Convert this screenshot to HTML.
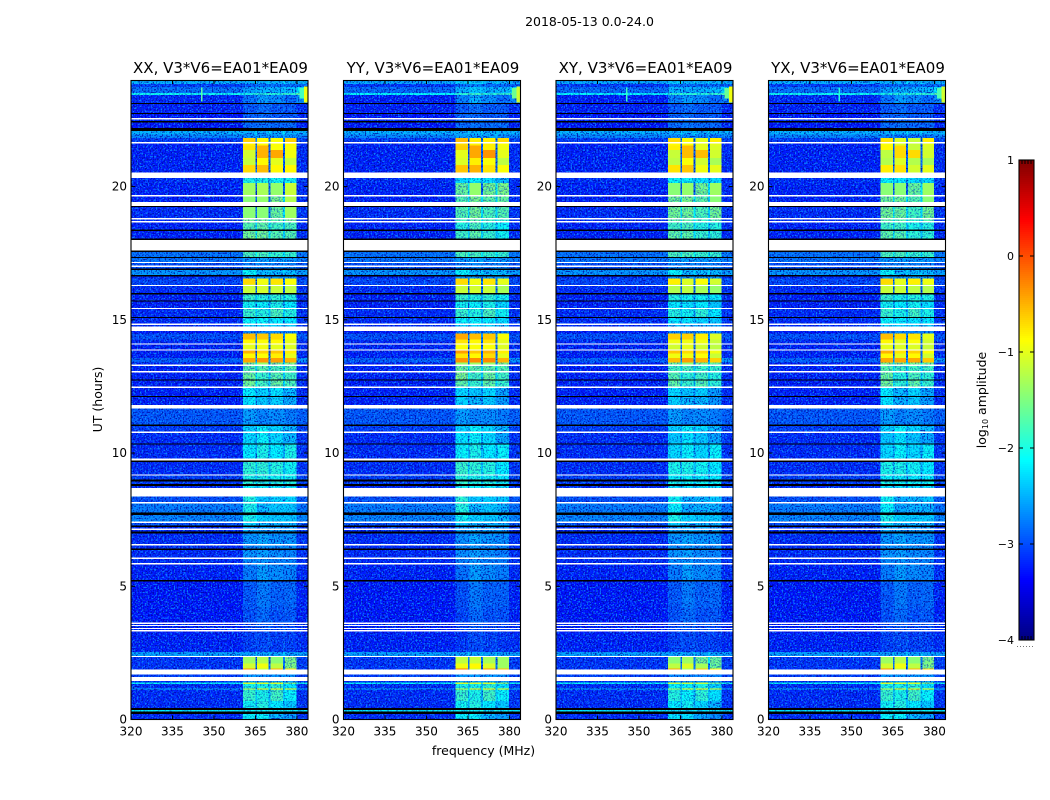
<!DOCTYPE html>
<html lang="en">
<head>
<meta charset="utf-8">
<title>2018-05-13 dynamic spectra, V3*V6 = EA01*EA09</title>
<style>
html,body{margin:0;padding:0;background:#fff;width:1050px;height:800px;overflow:hidden}
svg{display:block}
text{font-family:"DejaVu Sans","Liberation Sans",sans-serif;fill:#000}
</style>
</head>
<body>
<svg id="figure" xmlns="http://www.w3.org/2000/svg" width="1050" height="800" viewBox="0 0 1050 800">
  <defs>
    <filter id="grain-light" x="0" y="0" width="100%" height="100%" color-interpolation-filters="sRGB">
      <feTurbulence type="fractalNoise" baseFrequency="0.62" numOctaves="1" seed="4"/>
      <feColorMatrix type="matrix" values="0 0 0 0 0.05  0 0 0 0 0.58  0 0 0 0 1  7 0 0 0 -3.55"/>
    </filter>
    <filter id="grain-dark" x="0" y="0" width="100%" height="100%" color-interpolation-filters="sRGB">
      <feTurbulence type="fractalNoise" baseFrequency="0.66" numOctaves="1" seed="11"/>
      <feColorMatrix type="matrix" values="0 0 0 0 0  0 0 0 0 0  0 0 0 0 0.62  0 7 0 0 -3.6"/>
    </filter>
  </defs>
  <text x="589.5" y="26" font-size="12.5" text-anchor="middle">2018-05-13 0.0-24.0</text>
  <text x="0" y="0" font-size="12.5" text-anchor="middle" transform="translate(102,399.5) rotate(-90)">UT (hours)</text>
  <text x="483.5" y="755" font-size="12.5" text-anchor="middle">frequency (MHz)</text>
  <text x="0" y="0" font-size="12.5" text-anchor="middle" transform="translate(986,400) rotate(-90)">log<tspan font-size="8" dy="2">10</tspan><tspan dy="-2"> amplitude</tspan></text>
  <g id="panels"></g>
  <g id="colorbar"></g>
</svg>
<script>
// Time bands, top to bottom: [top hour, background, spw1, spw2, spw3, spw4, optional right edge].
// Each band lasts until the next band's top hour. W = flagged (white), K = zero amplitude (black).
const W = null;
const K = -9;
const bandsXX = [
[24.00,-2.45,-2.45,-2.45,-2.45,-2.45,-2.45],
[23.85,-3.10,-2.95,-2.85,-2.85,-2.85,-2.85],
[23.73,-2.80,-2.55,-2.45,-2.45,-2.40,-2.20],
[23.51,-2.05,-2.00,-1.95,-1.95,-1.90,-1.70],
[23.43,-3.20,-2.80,-2.55,-2.65,-2.85,-2.65],
[23.13,K,K,K,K,K],
[23.09,-3.25,-2.95,-2.85,-2.95,-2.95],
[22.76,K,K,K,K,K],
[22.72,-3.30,-2.90,-2.85,-2.95,-2.95],
[22.57,W,W,W,W,W],
[22.52,-3.20,-2.90,-2.85,-2.90,-2.90],
[22.47,K,K,K,K,K],
[22.41,-3.30,-2.85,-2.80,-2.85,-2.85],
[22.19,K,K,K,K,K],
[22.09,-2.45,-2.45,-2.45,-2.45,-2.45,-2.45],
[21.95,-2.70,-2.65,-2.65,-2.65,-2.65,-2.70],
[21.82,-3.10,-0.65,-0.85,-0.90,-0.65],
[21.67,W,W,W,W,W],
[21.62,-3.25,-0.80,-0.85,-0.90,-0.85],
[21.55,-3.25,-0.75,-0.50,-0.90,-0.90],
[21.37,-3.25,-1.10,-0.50,-0.45,-0.95],
[21.07,-3.25,-1.15,-0.85,-1.00,-1.15],
[20.81,-3.25,-0.70,-0.55,-0.85,-0.85],
[20.52,W,W,W,W,W],
[20.32,-3.20,-2.00,-2.00,-2.05,-2.05],
[20.13,-3.25,-1.35,-1.30,-1.40,-1.15],
[19.68,W,W,W,W,W],
[19.62,-3.25,-1.45,-1.40,-1.50,-1.25],
[19.42,W,W,W,W,W],
[19.28,K,K,K,K,K],
[19.24,-3.20,-1.45,-1.45,-1.60,-1.35],
[18.82,W,W,W,W,W],
[18.77,-3.20,-1.55,-1.55,-1.65,-1.50],
[18.71,W,W,W,W,W],
[18.66,-3.25,-1.70,-1.65,-1.80,-1.75],
[18.38,K,K,K,K,K],
[18.34,-3.25,-1.55,-1.55,-1.70,-1.70],
[18.05,K,K,K,K,K],
[18.00,W,W,W,W,W],
[17.60,K,K,K,K,K],
[17.54,-2.80,-1.75,-1.75,-1.85,-1.85],
[17.36,K,K,K,K,K],
[17.32,-2.80,-2.60,-2.55,-2.60,-2.60],
[17.17,W,W,W,W,W],
[17.13,-3.00,-2.75,-2.70,-2.75,-2.75],
[17.03,W,W,W,W,W],
[16.98,-3.00,-2.70,-2.70,-2.70,-2.70],
[16.93,K,K,K,K,K],
[16.87,-2.60,-2.10,-2.40,-2.40,-2.40],
[16.68,K,K,K,K,K],
[16.62,-3.20,-2.60,-2.60,-2.60,-2.60],
[16.55,-3.05,-0.70,-0.95,-0.75,-0.90],
[16.33,-3.10,-1.15,-1.10,-1.15,-1.20],
[16.30,W,W,W,W,W],
[16.26,-3.20,-1.15,-1.10,-1.15,-1.20],
[16.00,K,K,K,K,K],
[15.95,-3.25,-1.85,-1.95,-1.90,-1.95],
[15.72,K,K,K,K,K],
[15.68,-3.25,-2.05,-2.10,-2.00,-2.15],
[15.45,W,W,W,W,W],
[15.40,-3.20,-1.85,-1.95,-1.75,-1.95],
[15.10,K,K,K,K,K],
[15.06,-3.20,-2.10,-2.10,-2.15,-2.15],
[14.86,W,W,W,W,W],
[14.80,-3.20,-2.30,-2.30,-2.30,-2.30],
[14.74,W,W,W,W,W],
[14.58,-3.30,-2.70,-2.70,-2.70,-2.70],
[14.48,-3.00,-0.55,-0.60,-0.70,-0.90],
[14.26,-3.20,-0.85,-0.90,-0.85,-1.00],
[14.12,W,W,W,W,W],
[14.08,-3.25,-1.00,-0.95,-1.00,-1.05],
[13.89,W,W,W,W,W],
[13.84,-3.25,-0.50,-0.65,-0.60,-0.80],
[13.74,-3.25,-0.85,-0.90,-0.80,-1.00],
[13.56,-2.90,-0.45,-0.35,-0.40,-0.50,-2.60],
[13.40,-3.25,-1.50,-1.40,-1.50,-1.50],
[13.32,W,W,W,W,W],
[13.27,-3.25,-1.70,-1.70,-1.75,-1.70],
[13.07,W,W,W,W,W],
[13.03,-3.25,-1.60,-1.85,-1.70,-1.80],
[12.76,K,K,K,K,K],
[12.72,-3.25,-1.55,-1.80,-1.60,-1.75],
[12.50,W,W,W,W,W],
[12.45,-3.25,-2.15,-2.30,-2.20,-2.40],
[12.15,K,K,K,K,K],
[12.11,-3.25,-2.20,-2.35,-2.30,-2.45],
[11.80,W,W,W,W,W],
[11.68,-2.95,-2.55,-2.70,-2.65,-2.75],
[11.08,K,K,K,K,K],
[11.02,-3.10,-2.30,-2.10,-2.25,-2.40],
[10.80,W,W,W,W,W],
[10.75,-3.20,-2.25,-2.10,-2.25,-2.40],
[10.36,K,K,K,K,K],
[10.32,-3.20,-2.15,-2.00,-2.15,-2.00],
[9.80,W,W,W,W,W],
[9.72,K,K,K,K,K],
[9.66,-3.20,-1.90,-1.90,-1.95,-2.05],
[9.20,W,W,W,W,W],
[9.15,-3.10,-2.00,-2.00,-2.05,-2.05],
[9.00,K,K,K,K,K],
[8.94,-3.10,-1.90,-1.95,-1.95,-1.95],
[8.84,K,K,K,K,K],
[8.76,-3.20,-2.10,-2.10,-2.10,-2.10],
[8.69,W,W,W,W,W],
[8.37,-3.00,-1.95,-2.35,-2.30,-2.25],
[8.16,W,W,W,W,W],
[8.11,-2.75,-2.00,-2.40,-2.35,-2.35,-2.80],
[7.76,K,K,K,K,K],
[7.67,-2.70,-2.00,-2.30,-2.35,-2.35,-2.70],
[7.44,W,W,W,W,W],
[7.38,-3.00,-2.30,-2.40,-2.45,-2.45],
[7.28,K,K,K,K,K],
[7.22,-3.20,-2.50,-2.50,-2.55,-2.55],
[7.16,W,W,W,W,W],
[7.11,-3.20,-2.50,-2.50,-2.55,-2.55],
[7.06,K,K,K,K,K],
[6.98,-3.20,-2.60,-2.50,-2.60,-2.60],
[6.58,W,W,W,W,W],
[6.53,-3.20,-2.65,-2.60,-2.65,-2.65],
[6.41,K,K,K,K,K],
[6.36,-3.20,-2.60,-2.55,-2.65,-2.70],
[6.08,W,W,W,W,W],
[6.03,-3.20,-2.65,-2.60,-2.70,-2.70],
[5.87,W,W,W,W,W],
[5.82,-3.25,-2.75,-2.55,-2.65,-2.70],
[5.23,K,K,K,K,K],
[5.18,-3.30,-2.95,-2.75,-2.90,-2.85],
[4.20,-3.30,-3.00,-2.85,-3.00,-2.95],
[3.64,W,W,W,W,W],
[3.59,-3.25,-3.05,-2.95,-3.05,-3.05],
[3.55,W,W,W,W,W],
[3.50,-3.25,-3.05,-2.95,-3.05,-3.05],
[3.44,W,W,W,W,W],
[3.39,-3.25,-3.05,-3.00,-3.05,-3.05],
[3.35,W,W,W,W,W],
[3.30,-3.25,-3.10,-3.05,-3.10,-3.10],
[2.54,-2.55,-2.55,-2.55,-2.55,-2.55,-2.55],
[2.39,W,W,W,W,W],
[2.34,-3.15,-1.35,-1.25,-1.45,-1.50],
[2.10,-3.15,-1.10,-0.95,-1.20,-1.50],
[1.92,-3.15,-0.35,-1.20,-0.50,-0.70],
[1.87,W,W,W,W,W],
[1.68,-3.10,-2.60,-2.60,-2.60,-2.60],
[1.60,W,W,W,W,W],
[1.45,-3.20,-2.50,-2.50,-2.50,-2.50],
[1.38,-2.10,-1.10,-1.10,-1.10,-1.50],
[1.33,-3.20,-2.00,-2.00,-1.90,-2.20],
[1.17,-2.40,-1.20,-0.80,-0.80,-0.90],
[1.13,-3.20,-1.85,-2.00,-1.80,-2.10],
[0.70,-3.20,-2.05,-1.95,-2.15,-2.35],
[0.43,K,K,K,K,K],
[0.35,-2.20,-2.10,-2.10,-2.10,-2.10,-2.20],
[0.30,K,K,K,K,K],
[0.20,-3.20,-2.10,-2.10,-2.40,-2.55]
];
// Differences from the XX panel: [from hour, to hour, background, spw1, spw2, spw3, spw4].
const deltaXX = [];
const deltaYY = [
[24,23.1,-0.05,0.10,0.10,0,0],
[22,20.52,0,0.10,0.05,0.10,-0.05],
[20.32,18,0,-0.25,-0.10,-0.15,-0.35],
[16.6,14.6,0,0,0,0,-0.10],
[14.5,13,0,0.10,0.05,0.10,0],
[13,12,0,-0.10,-0.05,-0.05,-0.10],
[11,8,0,0.05,0,0,-0.10],
[8.4,3,0,-0.05,0,0,-0.05],
[2.4,1.8,0,0.15,0.10,0.15,0.15]
];
const deltaXY = [
[24,23.1,-0.05,0.10,0,0,0],
[22,20.52,0,-0.05,-0.05,-0.10,-0.15],
[20.32,18,0,-0.10,-0.10,-0.15,-0.20],
[16.6,14.6,0,-0.10,-0.10,-0.15,-0.20],
[14.5,12,0,-0.10,-0.05,-0.10,-0.15],
[11,8,0,-0.10,-0.10,-0.10,-0.10],
[2.4,0,0,-0.10,-0.10,-0.10,-0.10]
];
const deltaYX = [
[22,20.52,0,-0.10,-0.20,-0.25,-0.15],
[20.32,18,0,-0.10,-0.15,-0.20,-0.20],
[16.6,14.6,0,0,-0.05,-0.05,-0.05],
[14.5,12,0,0,-0.10,-0.05,-0.10],
[11,8,0,-0.10,-0.10,-0.10,-0.10]
];
// Narrow interference features: [panel, from MHz, to MHz, from hour, to hour, log amplitude].
const rfiFeatures = [
[0,345.3,345.9,23.72,23.20,-1.70],
[2,345.3,345.9,23.72,23.20,-1.85],
[3,345.3,345.9,23.72,23.20,-1.95],
[0,381.0,382.6,23.70,23.30,-1.80],
[0,382.6,384.0,23.75,23.15,-0.95],
[1,381.0,382.6,23.70,23.30,-1.60],
[1,382.6,384.0,23.75,23.15,-1.10],
[2,381.0,382.6,23.70,23.30,-1.60],
[2,382.6,384.0,23.75,23.15,-0.95],
[3,381.0,382.6,23.70,23.30,-1.75],
[3,382.6,384.0,23.75,23.15,-1.10]
];
const panelTitles = ["XX, V3*V6=EA01*EA09","YY, V3*V6=EA01*EA09","XY, V3*V6=EA01*EA09","YX, V3*V6=EA01*EA09"];
const panelDeltas = [deltaXX,deltaYY,deltaXY,deltaYX];
// Spectral window edges in MHz.
const spwEdges = [[360.5,365.0],[365.6,369.8],[370.5,374.9],[375.6,379.8]];
const freqTicks = [320,335,350,365,380];
const hourTicks = [0,5,10,15,20];
const colorTicks = [1,0,-1,-2,-3,-4];

const SVGNS = "http://www.w3.org/2000/svg";
const panelLefts = [131,343.5,556,768.5];
const panelWidth = 177;
const plotTop = 80;
const plotBottom = 719.5;
const freqMin = 320, freqMax = 384, hourMax = 24;
const colorMin = -4, colorMax = 1;

function scaleX(left, f){ return left + (f - freqMin) / (freqMax - freqMin) * panelWidth; }
function scaleY(h){ return plotBottom - h / hourMax * (plotBottom - plotTop); }
function clamp01(v){ return Math.max(0, Math.min(1, v)); }
function jet(v){
  const t = clamp01((v - colorMin) / (colorMax - colorMin));
  const r = clamp01(Math.min(4*t - 1.5, -4*t + 4.5));
  const g = clamp01(Math.min(4*t - 0.5, -4*t + 3.5));
  const b = clamp01(Math.min(4*t + 0.5, -4*t + 2.5));
  return "rgb(" + Math.round(r*255) + "," + Math.round(g*255) + "," + Math.round(b*255) + ")";
}
function node(tag, parent){
  const el = document.createElementNS(SVGNS, tag);
  parent.appendChild(el);
  return el;
}
function drawLine(parent, x1, y1, x2, y2){
  const el = node("line", parent);
  el.setAttribute("x1", x1);
  el.setAttribute("y1", y1);
  el.setAttribute("x2", x2);
  el.setAttribute("y2", y2);
  el.setAttribute("stroke", "#000");
  el.setAttribute("stroke-width", "1");
  
  
  return el;
}
function drawCell(parent, left, f0, f1, h0, h1, fill){
  const el = node("rect", parent);
  const x0 = scaleX(left, f0);
  const x1 = scaleX(left, f1);
  const y0 = scaleY(h0);
  const y1 = scaleY(h1);
  el.setAttribute("x", x0);
  el.setAttribute("y", y0);
  el.setAttribute("width", x1 - x0);
  el.setAttribute("height", y1 - y0);
  el.setAttribute("fill", fill);
  el.setAttribute("shape-rendering", "crispEdges");
  
  
  return el;
}
function drawGrain(parent, left, filterId, opacity){
  const el = node("rect", parent);
  el.setAttribute("x", left);
  el.setAttribute("y", plotTop);
  el.setAttribute("width", panelWidth);
  el.setAttribute("height", plotBottom - plotTop);
  el.setAttribute("filter", "url(#" + filterId + ")");
  el.setAttribute("opacity", opacity);
  
  
}
function deltaFor(deltas, hour, index){
  for (const d of deltas){
    if (hour <= d[0] && hour > d[1]) return d[index];
  }
  return 0;
}
function drawPanel(root, p){
  const left = panelLefts[p];
  const group = node("g", root);
  
  

  const cold = node("g", group);
  
  
  drawGrain(group, left, "grain-light", 0.8);
  drawGrain(group, left, "grain-dark", 0.75);
  const hot = node("g", group);
  
  
  const flags = node("g", group);
  
  

  const deltas = panelDeltas[p];
  function cell(f0, f1, h0, h1, v){
    if (v > -1.5){
      drawCell(hot, left, f0, f1, h0, h1, jet(v));
    } else if (v > -2.4){
      drawCell(cold, left, f0, f1, h0, h1, jet(v));
      const veil = drawCell(hot, left, f0, f1, h0, h1, jet(v));
      veil.setAttribute("opacity", "0.4");
    } else {
      drawCell(cold, left, f0, f1, h0, h1, jet(v));
    }
  }
  bandsXX.forEach(function(band, i){
    const h0 = band[0];
    const h1 = i + 1 < bandsXX.length ? bandsXX[i+1][0] : 0;
    if (band[1] === W){ drawCell(flags, left, freqMin, freqMax, h0, h1, "#fff"); return; }
    if (band[1] === K){ drawCell(flags, left, freqMin, freqMax, h0, h1, "#000"); return; }
    const bg = band[1] + deltaFor(deltas, h0, 2);
    const right = (band.length > 6 ? band[6] : band[1] + 0.05) + deltaFor(deltas, h0, 2);
    cell(freqMin, spwEdges[0][0], h0, h1, bg);
    spwEdges.forEach(function(edge, s){
      const v = band[2+s] + deltaFor(deltas, h0, 3+s);
      cell(edge[0], edge[1], h0, h1, v);
      if (s < spwEdges.length - 1){
        const gap = v > -1.5 ? bg + 0.35 : (v + bg) / 2 + 0.2;
        cell(edge[1], spwEdges[s+1][0], h0, h1, gap);
      }
    });
    cell(spwEdges[3][1], freqMax, h0, h1, right);
  });
  rfiFeatures.forEach(function(r){
    if (r[0] === p) drawCell(hot, left, r[1], r[2], r[3], r[4], jet(r[5]));
  });

  const frame = node("rect", group);
  frame.setAttribute("x", left);
  frame.setAttribute("y", plotTop + 0.5);
  frame.setAttribute("width", panelWidth);
  frame.setAttribute("height", plotBottom - plotTop - 0.5);
  frame.setAttribute("fill", "none");
  frame.setAttribute("stroke", "#000");
  frame.setAttribute("stroke-width", "1.1");
  
  

  freqTicks.forEach(function(f){
    const x = scaleX(left, f);
    drawLine(group, x, plotBottom, x, plotBottom - 4);
    drawLine(group, x, plotTop, x, plotTop + 4);
    const label = node("text", group);
    label.setAttribute("x", x);
    label.setAttribute("y", plotBottom + 16);
    label.setAttribute("font-size", "12");
    label.setAttribute("text-anchor", "middle");
    
    
    label.textContent = f;
  });
  hourTicks.forEach(function(h){
    const y = scaleY(h);
    drawLine(group, left, y, left + 4, y);
    drawLine(group, left + panelWidth, y, left + panelWidth - 4, y);
    const label = node("text", group);
    label.setAttribute("x", left - 4);
    label.setAttribute("y", y + 4);
    label.setAttribute("font-size", "12");
    label.setAttribute("text-anchor", "end");
    
    
    label.textContent = h;
  });
  const title = node("text", group);
  title.setAttribute("x", left + panelWidth / 2 + 1);
  title.setAttribute("y", 73);
  title.setAttribute("font-size", "15");
  title.setAttribute("text-anchor", "middle");
  
  
  title.textContent = panelTitles[p];
}
function drawColorbar(root){
  const x0 = 1019, x1 = 1034, yTop = 160, yBottom = 640;
  const yOf = function(v){ return yBottom - (v - colorMin) / (colorMax - colorMin) * (yBottom - yTop); };
  for (let py = yTop; py < yBottom; py += 2){
    const v = colorMin + (yBottom - py - 1) / (yBottom - yTop) * (colorMax - colorMin);
    const step = node("rect", root);
    step.setAttribute("x", x0);
    step.setAttribute("y", py);
    step.setAttribute("width", x1 - x0);
    step.setAttribute("height", 2);
    step.setAttribute("fill", jet(v));
    step.setAttribute("shape-rendering", "crispEdges");
    
    
  }
  const frame = node("rect", root);
  frame.setAttribute("x", x0);
  frame.setAttribute("y", yTop);
  frame.setAttribute("width", x1 - x0);
  frame.setAttribute("height", yBottom - yTop);
  frame.setAttribute("fill", "none");
  frame.setAttribute("stroke", "#000");
  frame.setAttribute("stroke-width", "1.1");
  
  
  colorTicks.forEach(function(v){
    const y = yOf(v);
    drawLine(root, x0, y, x0 + 4, y);
    drawLine(root, x1, y, x1 - 4, y);
    const label = node("text", root);
    label.setAttribute("x", x0 - 5);
    label.setAttribute("y", y + 4);
    label.setAttribute("font-size", "11");
    label.setAttribute("text-anchor", "end");
    
    
    label.textContent = String(v).replace("-", "\u2212");
  });
  for (let x = x0 + 3; x < x1; x += 3){
    drawLine(root, x, yTop, x, yTop + 4);
    drawLine(root, x, yBottom, x, yBottom - 4);
  }
  const dots = node("line", root);
  dots.setAttribute("x1", 1017);
  dots.setAttribute("y1", 646.5);
  dots.setAttribute("x2", 1035);
  dots.setAttribute("y2", 646.5);
  dots.setAttribute("stroke", "#777");
  dots.setAttribute("stroke-width", "1");
  dots.setAttribute("stroke-dasharray", "1 2");
  
  
}
const panelsRoot = document.getElementById("panels");
panelTitles.forEach(function(_, p){ drawPanel(panelsRoot, p); });
drawColorbar(document.getElementById("colorbar"));
</script>
</body>
</html>
